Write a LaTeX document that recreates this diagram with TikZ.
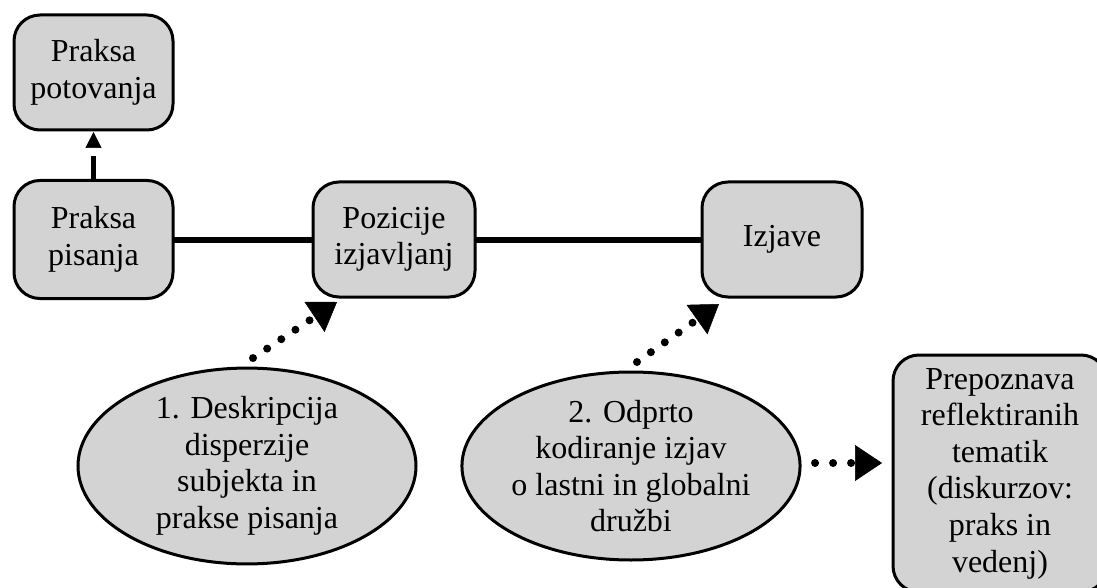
\documentclass[tikz,border=0pt]{standalone}
\usepackage{fontspec}
\setmainfont{Liberation Serif}
\usetikzlibrary{arrows.meta,shapes.geometric,calc}
\definecolor{boxgray}{RGB}{211,211,211}
\begin{document}
\begin{tikzpicture}[x=1pt,y=-1pt,
  txt/.style={font=\fontsize{32}{36.5}\selectfont, align=center, text=black},
  rbox/.style={txt, draw=black, line width=3pt, fill=boxgray, rounded corners=26pt, inner sep=0pt, outer sep=0pt},
  oval/.style={txt, ellipse, draw=black, line width=3pt, fill=boxgray, inner sep=0pt, outer sep=0pt},
  link/.style={line width=6pt, draw=black},
  dotarrow/.style={line width=8pt, line cap=round, dash pattern=on 0pt off 17pt,
    -{Triangle[length=27pt,width=36pt,line width=0.5pt]}},
  dasharrow/.style={line width=5pt, dash pattern=on 24pt off 20pt,
    -{Triangle[length=16pt,width=16pt,line width=0.5pt]}}
]
\useasboundingbox[fill=white] (0,0) rectangle (1097,588);

\node[rbox, minimum width=159pt, minimum height=115pt] (pot) at (93.5,72.5) {Praksa\\potovanja};
\node[rbox, minimum width=159pt, minimum height=118pt] (pis) at (93.5,239.5) {Praksa\\pisanja};
\node[rbox, minimum width=162pt, minimum height=115pt] (poz) at (394,239.5) {Pozicije\\izjavljanj};
\node[rbox, minimum width=160pt, minimum height=115pt] (izj) at (782,239.5) {Izjave};
\node[rbox, minimum width=214pt, minimum height=237pt, font=\fontsize{32}{36.6}\selectfont] (pre) at (1000,473.5)
  {Prepoznava\\reflektiranih\\tematik\\(diskurzov:\\praks in\\vedenj)};
\node[oval, minimum width=338pt, minimum height=188pt] (e1) at (247,466)
  {1. Deskripcija\\disperzije\\subjekta in\\prakse pisanja};
\node[oval, minimum width=338pt, minimum height=188pt] (e2) at (631,466)
  {2. Odprto\\kodiranje izjav\\o lastni in globalni\\družbi};

\draw[link] (pis.east) -- (poz.west);
\draw[link] (poz.east) -- (izj.west);

\draw[dasharrow] (pis.north) -- ($(pot.south)+(0,2)$);

\coordinate (a1s) at ($(e1.north)+(6,-10)$);
\coordinate (a1e) at ($(poz.south)+(-57,5)$);
\draw[dotarrow] (a1s) -- (a1e);

\coordinate (a2s) at ($(e2.north)+(6,-10)$);
\coordinate (a2e) at ($(izj.south)+(-63,7)$);
\draw[dotarrow] (a2s) -- (a2e);

\coordinate (a3s) at ($(e2.east)+(15,-3)$);
\coordinate (a3e) at ($(pre.west)+(-11,-10.5)$);
\draw[dotarrow, dash pattern=on 0pt off 18pt] (a3s) -- (a3e);
\end{tikzpicture}
\end{document}
